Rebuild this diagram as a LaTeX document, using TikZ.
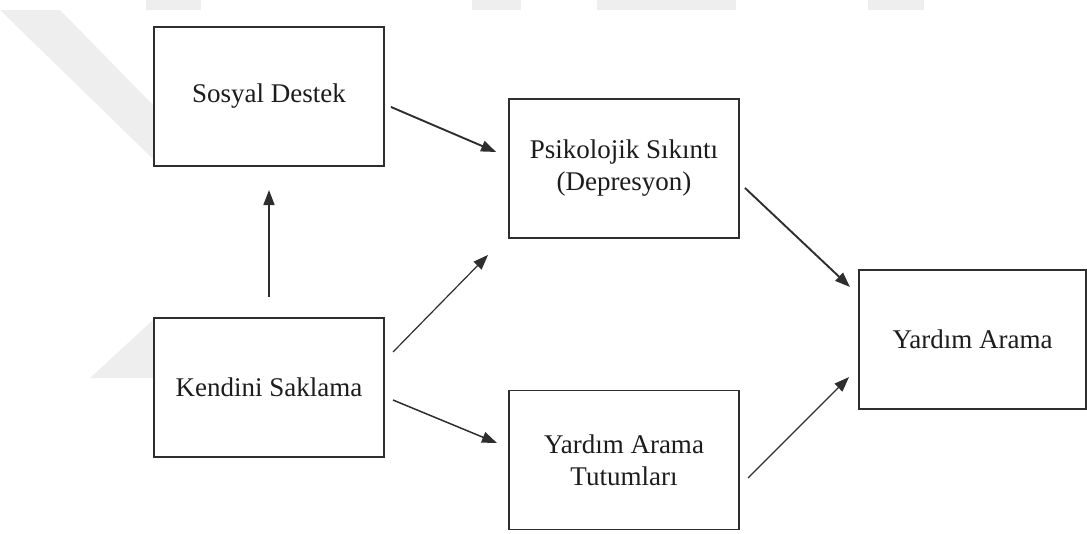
\documentclass[tikz,border=0pt]{standalone}
\usepackage{fontspec}
\setmainfont{Liberation Serif}
\usepackage{tikz}
\usetikzlibrary{arrows.meta, positioning}
\definecolor{boxline}{HTML}{2E2E2E}
\definecolor{ink}{HTML}{1C1C1C}
\definecolor{wmgray}{HTML}{EEEEEE}

\begin{document}
\begin{tikzpicture}[
    x=1pt, y=-1pt,
    block/.style={rectangle, draw=boxline, fill=white, text=ink, align=center, minimum width=230pt, minimum height=139pt, inner sep=0pt, outer sep=0pt, line width=1.4pt, font=\fontsize{27}{32}\selectfont},
    arrow/.style={-{Triangle[length=15pt,width=11pt]}, line width=1.9pt, boxline},
    thinarrow/.style={arrow, line width=1.2pt}
]
    \useasboundingbox (0,0) rectangle (1087,533);

    % Watermark
    \fill [wmgray] (0,10) -- (60,10) -- (154,106) -- (154,160) -- cycle;
    \fill [wmgray] (90,378) -- (154,319) -- (154,378) -- cycle;
    \foreach \xa/\xb in {146/201, 472/521, 597/736, 868/924}
        \fill [wmgray] (\xa,0) rectangle (\xb,10);

    % Nodes
    \node (sosyal) [block] at (269,96.5) {Sosyal Destek};
    \node (kendini) [block, below=152pt of sosyal] {Kendini Saklama};
    \node (psik) [block, right=125pt of sosyal, yshift=-72pt] {Psikolojik S{\i}k{\i}nt{\i}\\(Depresyon)};
    \node (tutum) [block, right=125pt of kendini, yshift=-72.5pt] {Yard{\i}m Arama\\Tutumlar{\i}};
    \node (yardim) [block, minimum width=227pt, right=120pt of psik, yshift=-171pt] {Yard{\i}m Arama};

    % Paths
    \draw [arrow, shorten <=7.5pt, shorten >=14pt] ([yshift=-7.5pt]sosyal.east) -- ([yshift=11pt]psik.west);
    \draw [arrow, line width=1.7pt, shorten <=21pt, shorten >=24pt] (kendini.north) -- (sosyal.south);
    \draw [thinarrow, shorten <=12.9pt, shorten >=30pt] ([yshift=26.3pt]kendini.east) -- ([yshift=4.5pt]psik.south west);
    \draw [arrow, line width=1.5pt, shorten <=9.7pt, shorten >=13pt] ([yshift=-8.8pt]kendini.east) -- ([yshift=12pt]tutum.west);
    \draw [arrow, shorten <=8.2pt, shorten >=12.4pt] ([yshift=-13.8pt]psik.east) -- ([yshift=44pt]yardim.west);
    \draw [thinarrow, shorten <=12.7pt, shorten >=14.1pt] ([yshift=-26.9pt]tutum.east) -- ([yshift=-27.6pt]yardim.west);
\end{tikzpicture}
\end{document}
